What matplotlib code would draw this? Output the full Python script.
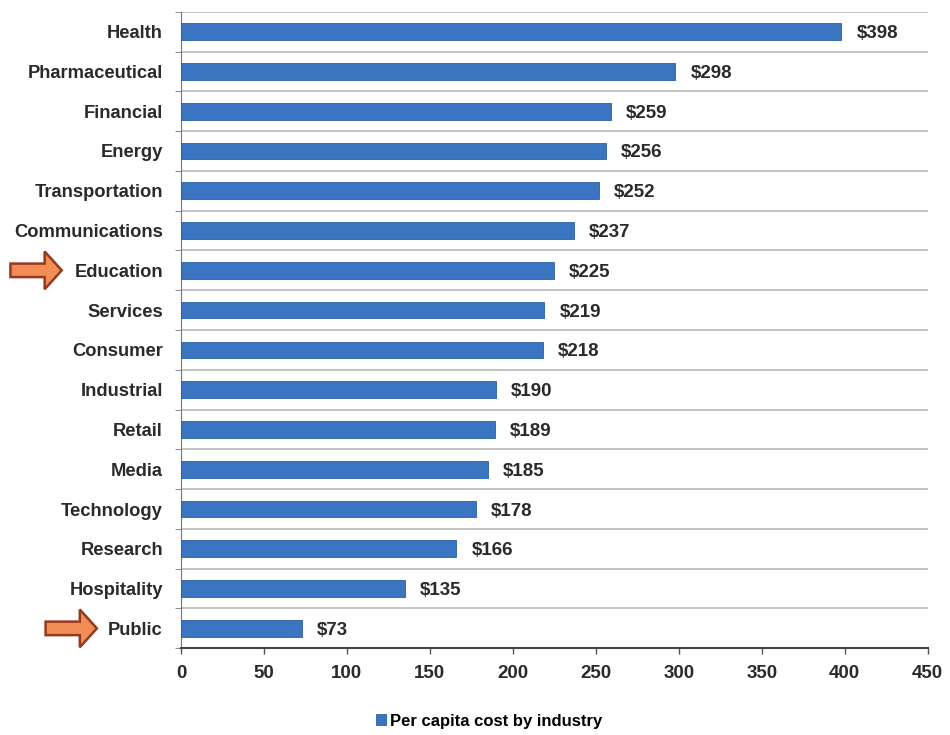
import matplotlib
matplotlib.use("Agg")
import matplotlib.pyplot as plt
from matplotlib.patches import FancyArrow
import matplotlib.transforms as mtrans

industries = ["Health", "Pharmaceutical", "Financial", "Energy", "Transportation",
              "Communications", "Education", "Services", "Consumer", "Industrial",
              "Retail", "Media", "Technology", "Research", "Hospitality", "Public"]
costs = [398, 298, 259, 256, 252, 237, 225, 219, 218, 190, 189, 185, 178, 166, 135, 73]
xticks = [0, 50, 100, 150, 200, 250, 300, 350, 400, 450]
marked = ["Education", "Public"]

plt.rcParams['font.family'] = ['Liberation Sans', 'DejaVu Sans']

fig = plt.figure(figsize=(9.5, 7.35), dpi=100)
ax = fig.add_axes([0.1905, 0.118, 0.786, 0.866])

n = len(industries)
ypos = list(range(n))[::-1]
bars = ax.barh(ypos, costs, height=0.42, color="#3b75c2", edgecolor="#2e5fa3",
               linewidth=0.6, label="Per capita cost by industry", zorder=3)

for y, v in zip(ypos, costs):
    ax.text(v + 9, y, "$%d" % v, va="center_baseline", ha="left", fontsize=13.5,
            fontweight="bold", color="#2a2a2a")

# gridlines between categories
bounds = [i - 0.5 for i in range(n + 1)]
for b in bounds[1:]:
    ax.axhline(b, color="#b8b8b8", linewidth=1.2, zorder=1)

ax.set_xlim(0, 450)
ax.set_ylim(-0.5, n - 0.5)
ax.set_xticks(xticks)
ax.set_xticklabels([str(t) for t in xticks], fontsize=13.5, fontweight="bold", color="#2a2a2a")
ax.set_yticks(ypos)
ax.set_yticklabels(industries, fontsize=13.2, fontweight="bold", color="#2a2a2a")
ax.tick_params(axis="y", length=0, pad=13)
ax.tick_params(axis="x", length=4, width=1, color="#555555", pad=8)
ax.set_yticks(bounds, minor=True)
ax.tick_params(axis="y", which="minor", length=4, color="#777777")

for s in ["top", "right"]:
    ax.spines[s].set_visible(False)
ax.spines["left"].set_color("#777777")
ax.spines["bottom"].set_color("#444444")
ax.spines["bottom"].set_linewidth(1.5)

# orange arrows pointing to highlighted categories
trans = mtrans.blended_transform_factory(fig.transFigure, ax.transData)
arrow_x = {"Education": 0.011, "Public": 0.048}
for name in marked:
    y = ypos[industries.index(name)]
    arr = FancyArrow(arrow_x[name], y, 0.054, 0, width=0.34, head_width=0.95,
                     head_length=0.018, length_includes_head=True,
                     facecolor="#f28d55", edgecolor="#953a1e", linewidth=1.8,
                     transform=trans, clip_on=False)
    fig.add_artist(arr)

fig.legend(handles=[bars], loc="center", bbox_to_anchor=(0.515, 0.019), frameon=False,
           handlelength=0.6, handleheight=0.6, handletextpad=0.2,
           prop={"weight": "bold", "size": 12})

fig.savefig("out.png", dpi=100, facecolor="white")
